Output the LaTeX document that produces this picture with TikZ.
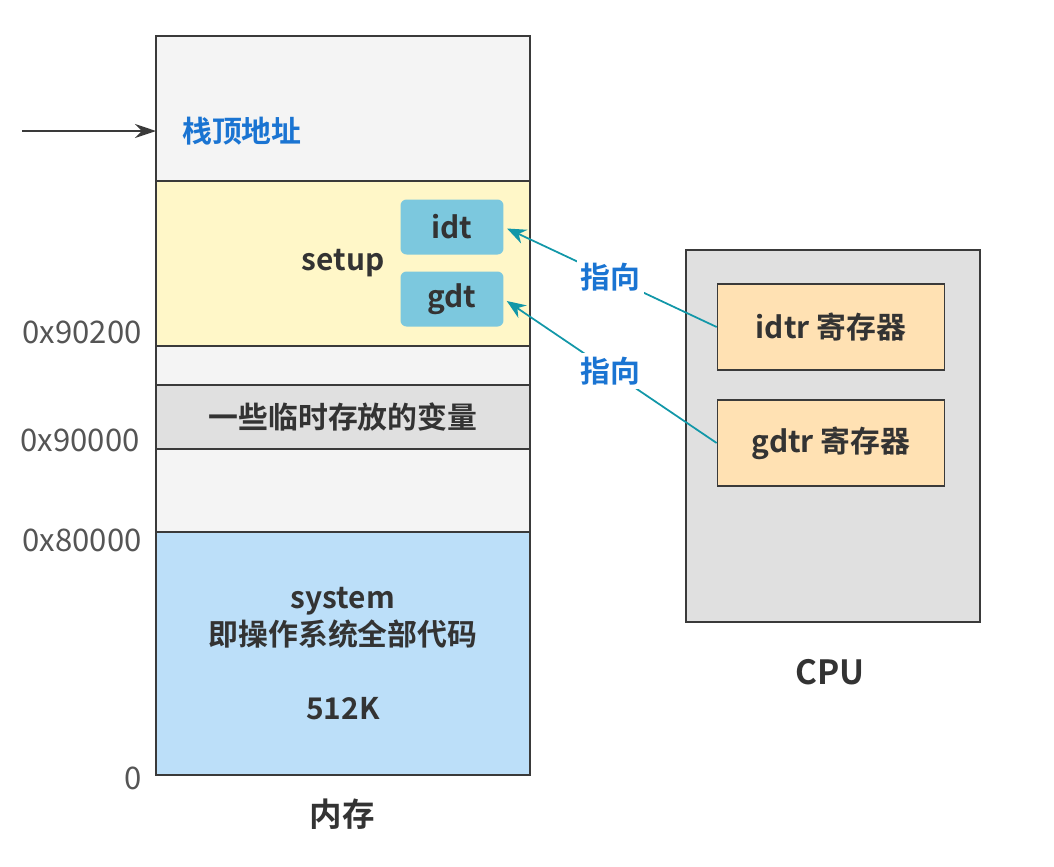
\documentclass[tikz,border=0pt]{standalone}
\usepackage{fontspec}
\setmainfont{Noto Sans CJK SC}[BoldFont={Noto Sans CJK SC Bold}]
\usepackage{xcolor}
\usetikzlibrary{arrows.meta, positioning}
\definecolor{edgegray}{HTML}{3A3A3A}
\definecolor{txtgray}{HTML}{333333}
\definecolor{addrgray}{HTML}{555555}
\definecolor{memlight}{HTML}{F4F4F4}
\definecolor{setupyellow}{HTML}{FFF7C8}
\definecolor{tempgray}{HTML}{E0E0E0}
\definecolor{sysblue}{HTML}{BCDFF9}
\definecolor{tblblue}{HTML}{7CC8DE}
\definecolor{regorange}{HTML}{FFE1B3}
\definecolor{ptrblue}{HTML}{1A74D2}
\definecolor{refteal}{HTML}{1297A8}
\tikzset{
  memblock/.style={draw=edgegray, line width=1pt, minimum width=7.48cm, inner sep=0pt, outer sep=0pt,
    text=txtgray, align=center, font=\bfseries\fontsize{17}{21}\selectfont},
  tablebox/.style={fill=tblblue, rounded corners=0.12cm, minimum width=2.06cm, minimum height=1.1cm,
    inner sep=0pt, text=txtgray, font=\bfseries\fontsize{17}{20}\selectfont},
  regbox/.style={draw=edgegray, line width=1pt, fill=regorange, minimum width=4.54cm, minimum height=1.71cm,
    inner sep=0pt, text=txtgray, font=\bfseries\fontsize{17}{20}\selectfont},
  addr/.style={anchor=east, text=addrgray, inner sep=0pt, font=\fontsize{17.7}{20}\selectfont},
  pointlabel/.style={fill=white, inner sep=2pt, text=ptrblue, font=\bfseries\fontsize{17}{20}\selectfont},
  refarrow/.style={draw=refteal, line width=1pt, -{Stealth[length=0.38cm, width=0.3cm]}, shorten >=2pt},
}
\begin{document}
\begin{tikzpicture}[x=0.02cm, y=-0.02cm]
        \useasboundingbox (0,0) rectangle (1054,866);

        % memory, stacked top to bottom
        \node[memblock, fill=memlight, minimum height=2.9cm, anchor=north west] (stacktop) at (156,36) {};
        \node[memblock, fill=setupyellow, minimum height=3.3cm, below=0pt of stacktop] (setup) {setup};
        \node[memblock, fill=memlight, minimum height=0.78cm, below=0pt of setup] (gapa) {};
        \node[memblock, fill=tempgray, minimum height=1.28cm, below=0pt of gapa] (tempvars) {一些临时存放的变量};
        \node[memblock, fill=memlight, minimum height=1.66cm, below=0pt of tempvars] (gapb) {};
        \node[memblock, fill=sysblue, minimum height=4.86cm, below=0pt of gapb] (system) {system\\即操作系统全部代码\\[0.74cm]512K};
        \node[text=txtgray, font=\bfseries\fontsize{18.5}{22}\selectfont] (memlabel) at (342,814) {内存};

        % stack top pointer
        \coordinate (spfrom) at (22,131);
        \node[anchor=west, text=ptrblue, font=\bfseries\fontsize{17}{20}\selectfont] (sptext) at (176,131) {栈顶地址};
        \draw[edgegray, line width=1pt, -{Stealth[length=0.42cm, width=0.28cm]}] (spfrom) -- (spfrom -| stacktop.west);

        % tables inside setup
        \node[tablebox] (idt) at (452,227) {idt};
        \node[tablebox] (gdt) at (452,299) {gdt};

        % addresses
        \node[addr] (a90200) at (142,332) {0x90200};
        \node[addr] (a90000) at (140,440) {0x90000};
        \node[addr] (a80000) at (142,540) {0x80000};
        \node[addr] (azero) at (142,778) {0};

        % CPU
        \node[draw=edgegray, line width=1pt, fill=tempgray, minimum width=5.88cm, minimum height=7.44cm] (cpu) at (833,436) {};
        \node[regbox] (idtr) at (831,327) {idtr 寄存器};
        \node[regbox] (gdtr) at (831,443) {gdtr 寄存器};
        \node[text=txtgray, font=\bfseries\fontsize{19}{22}\selectfont] (cpulabel) at (830,672) {CPU};

        % registers point into setup
        \draw[refarrow] (idtr.west) -- node[pointlabel] (ptra) {指向} (idt.east);
        \draw[refarrow] (gdtr.west) -- node[pointlabel] (ptrb) {指向} (gdt.east);
    \end{tikzpicture}
\end{document}
